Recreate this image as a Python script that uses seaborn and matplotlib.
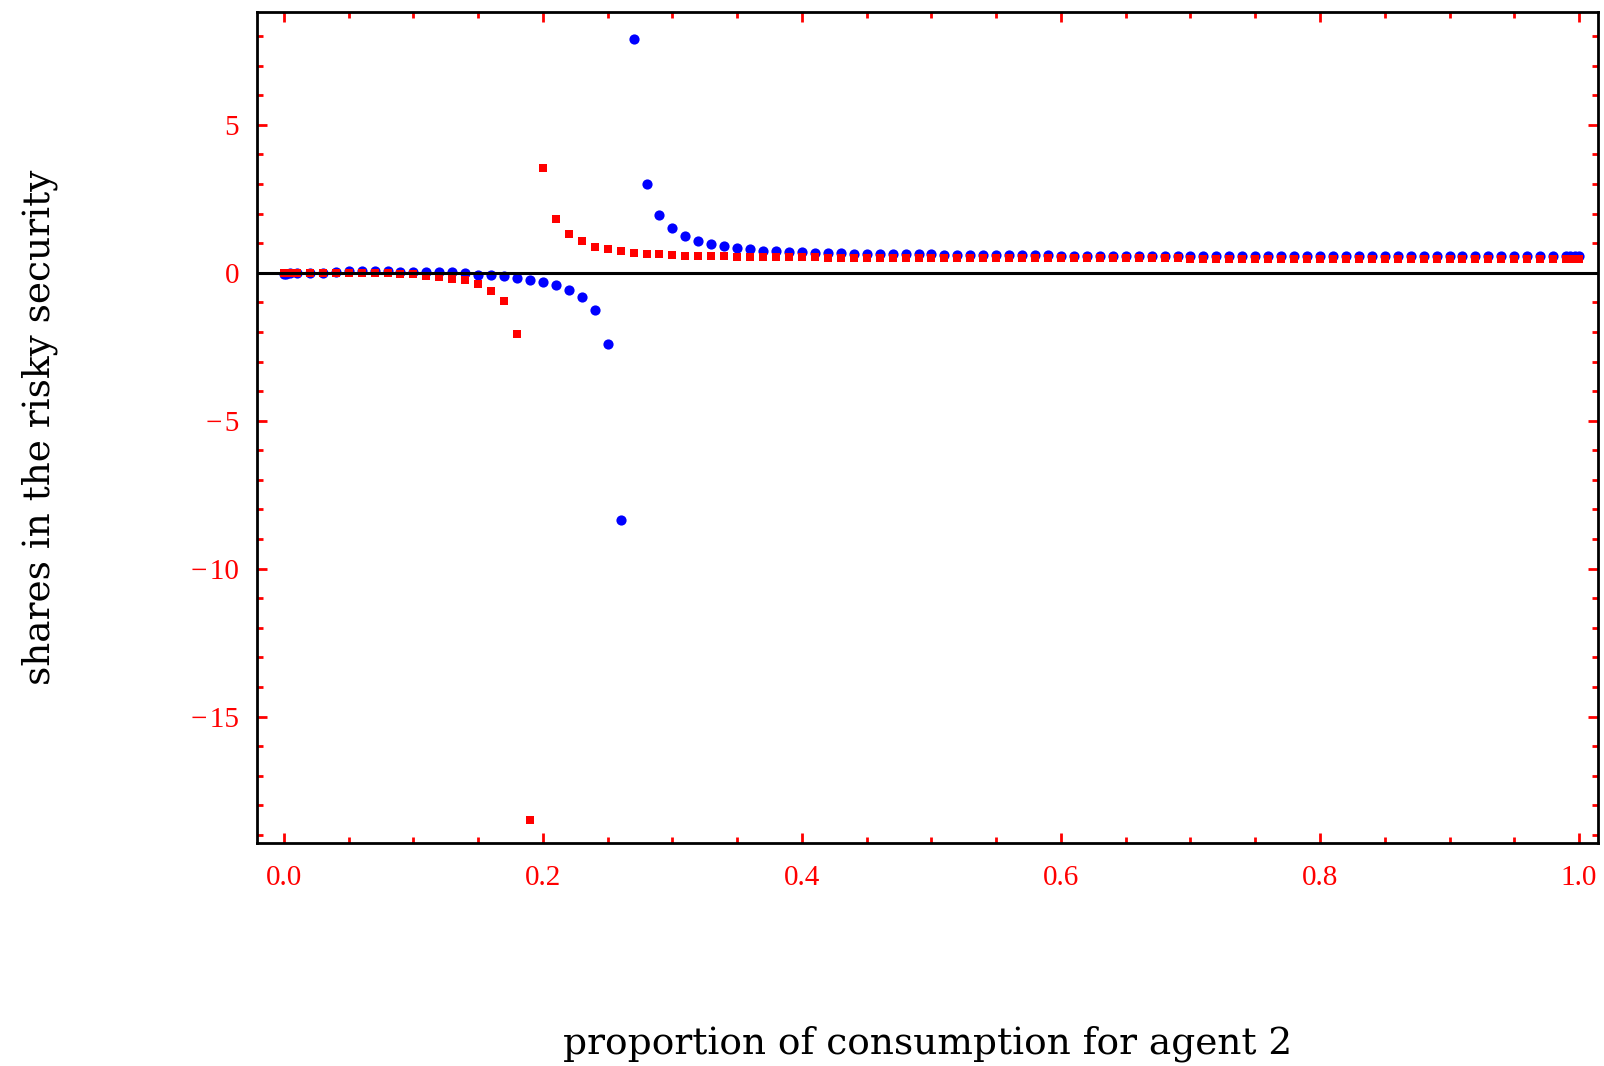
import matplotlib
matplotlib.use("Agg")
import matplotlib.pyplot as plt
import seaborn as sns
import pandas as pd
from matplotlib.ticker import MultipleLocator, FixedLocator

# ---- data ----
x_grid = [i / 100 for i in range(101)]

blue_vals = [
    -0.05, 0.00, 0.00, 0.00, 0.01, 0.05, 0.06, 0.06, 0.05, 0.04,
    0.03, 0.02, 0.02, 0.01, 0.00, -0.08, -0.09, -0.12, -0.19, -0.23,
    -0.31, -0.40, -0.57, -0.82, -1.27, -2.40, -8.35, 7.90, 2.99, 1.94,
    1.50, 1.25, 1.08, 0.98, 0.91, 0.85, 0.79, 0.75, 0.72, 0.70,
    0.69, 0.68, 0.67, 0.66, 0.65, 0.64, 0.64, 0.63, 0.63, 0.62,
    0.62, 0.61, 0.61, 0.60, 0.60, 0.60, 0.59, 0.59, 0.59, 0.59,
    0.58, 0.58, 0.58, 0.58, 0.58, 0.57, 0.57, 0.57, 0.57, 0.57,
    0.57, 0.56, 0.56, 0.56, 0.56, 0.56, 0.56, 0.56, 0.56, 0.56,
    0.56, 0.55, 0.55, 0.55, 0.55, 0.55, 0.55, 0.55, 0.55, 0.55,
    0.55, 0.55, 0.55, 0.55, 0.55, 0.55, 0.55, 0.55, 0.55, 0.55,
    0.55,
]

red_vals = [
    -0.02, -0.01, -0.01, -0.01, -0.01, -0.01, -0.01, -0.02, -0.02, -0.05,
    -0.05, -0.10, -0.14, -0.20, -0.25, -0.38, -0.60, -0.97, -2.07, -18.50,
    3.53, 1.81, 1.30, 1.07, 0.88, 0.80, 0.74, 0.68, 0.64, 0.63,
    0.61, 0.58, 0.57, 0.56, 0.55, 0.54, 0.53, 0.53, 0.52, 0.52,
    0.52, 0.52, 0.51, 0.51, 0.51, 0.51, 0.51, 0.50, 0.50, 0.50,
    0.50, 0.50, 0.50, 0.50, 0.50, 0.50, 0.49, 0.49, 0.49, 0.49,
    0.49, 0.49, 0.49, 0.49, 0.49, 0.49, 0.49, 0.49, 0.49, 0.49,
    0.48, 0.48, 0.48, 0.48, 0.48, 0.48, 0.48, 0.48, 0.48, 0.48,
    0.48, 0.48, 0.48, 0.48, 0.48, 0.48, 0.48, 0.48, 0.48, 0.48,
    0.48, 0.48, 0.48, 0.48, 0.48, 0.48, 0.48, 0.48, 0.48, 0.48,
    0.48,
]

# extra sample points close to the ends of the interval
x_extra = [0.002, 0.005, 0.993, 0.997]
blue_extra = [-0.03, -0.01, 0.55, 0.55]
red_extra = [-0.02, -0.01, 0.48, 0.48]

x_ticks = [0.0, 0.2, 0.4, 0.6, 0.8, 1.0]
x_ticklabels = ["0.0", "0.2", "0.4", "0.6", "0.8", "1.0"]
y_ticks = [-15, -10, -5, 0, 5]
y_ticklabels = ["\u2212\u200a15", "\u2212\u200a10", "\u2212\u200a5", "0", "5"]

xlabel = "proportion of consumption for agent 2"
ylabel = "shares in the risky security"

df_blue = pd.DataFrame({"x": x_grid + x_extra, "y": blue_vals + blue_extra})
df_red = pd.DataFrame({"x": x_grid + x_extra, "y": red_vals + red_extra})

# ---- plotting ----
sns.set_style("white")
plt.rcParams["font.family"] = ["Liberation Serif", "DejaVu Serif"]

fig = plt.figure(figsize=(16.04, 10.66), dpi=100)
ax = fig.add_axes([0.1602, 0.2092, 0.9963 - 0.1602, 0.9887 - 0.2092])

sns.scatterplot(data=df_blue, x="x", y="y", ax=ax, color="#0000ff", marker="o",
                s=54, linewidth=0, zorder=3)
sns.scatterplot(data=df_red, x="x", y="y", ax=ax, color="#ff0000", marker="s",
                s=40, linewidth=0, zorder=4)

ax.axhline(0, color="black", lw=2.2, zorder=5)

ax.set_xlim(-0.0208, 1.0147)
ax.set_ylim(-19.27, 8.81)

ax.xaxis.set_major_locator(FixedLocator(x_ticks))
ax.set_xticklabels(x_ticklabels)
ax.xaxis.set_minor_locator(MultipleLocator(0.05))
ax.yaxis.set_major_locator(FixedLocator(y_ticks))
ax.set_yticklabels(y_ticklabels)
ax.yaxis.set_minor_locator(MultipleLocator(1))

ax.tick_params(which="both", direction="in", color="#ff0000", width=2.0,
               top=True, right=True, bottom=True, left=True)
ax.tick_params(which="major", length=7.5)
ax.tick_params(which="minor", length=4.5)
ax.tick_params(axis="x", which="major", labelsize=21, labelcolor="#ff0000", pad=16)
ax.tick_params(axis="y", which="major", labelsize=21, labelcolor="#ff0000", pad=13)

for sp in ax.spines.values():
    sp.set_color("black")
    sp.set_linewidth(2.0)
    sp.set_visible(True)

ax.set_xlabel(xlabel, fontsize=27, color="black", labelpad=97,
              family=["DejaVu Serif"])
ax.set_ylabel(ylabel, fontsize=27, color="black", labelpad=96,
              family=["DejaVu Serif"])

fig.savefig("out.png", dpi=100, facecolor="white")
